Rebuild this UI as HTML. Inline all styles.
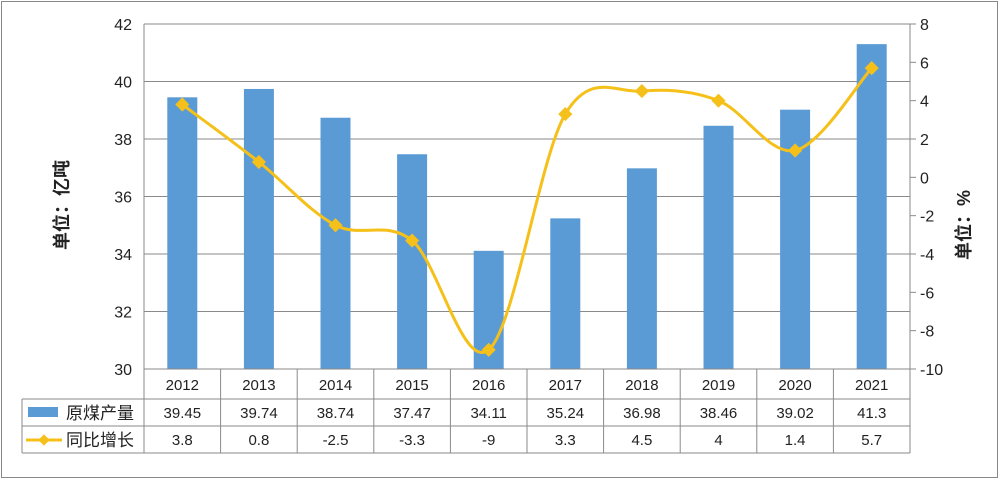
<!DOCTYPE html>
<html><head><meta charset="utf-8"><style>
body{margin:0;background:#fff;}
svg{display:block;font-family:"Liberation Sans","Noto Sans CJK SC",sans-serif;}
</style></head><body>
<svg id="c" width="999" height="480"></svg>
<script>
const categories=['2012','2013','2014','2015','2016','2017','2018','2019','2020','2021'];
const production=[39.45,39.74,38.74,37.47,34.11,35.24,36.98,38.46,39.02,41.3];
const growth=[3.8,0.8,-2.5,-3.3,-9,3.3,4.5,4,1.4,5.7];
const leftTicks=[30,32,34,36,38,40,42];
const rightTicks=[-10,-8,-6,-4,-2,0,2,4,6,8];
const productionLabels=['39.45','39.74','38.74','37.47','34.11','35.24','36.98','38.46','39.02','41.3'];
const growthLabels=['3.8','0.8','-2.5','-3.3','-9','3.3','4.5','4','1.4','5.7'];

const svg=document.getElementById('c');
const NS='http://www.w3.org/2000/svg';
const L=144,R=910,T=24,B=369;
const cw=(R-L)/categories.length;
const yL=v=>B-(v-30)/(42-30)*(B-T);
const yR=v=>B-(v+10)/(18)*(B-T);
const xC=i=>L+cw*(i+0.5);
function mk(tag,at,txt){const e=document.createElementNS(NS,tag);for(const k in at)e.setAttribute(k,at[k]);if(txt!==undefined)e.textContent=txt;svg.appendChild(e);return e;}

let e=mk('rect',{x:1.5,y:1.5,width:996,height:476,fill:'#fff',stroke:'#888'});



leftTicks.forEach(v=>{
 const g=mk('line',{x1:L,x2:R,y1:yL(v),y2:yL(v),stroke:'#8a8a8a','stroke-width':1});
 
 
 const t=mk('text',{x:L-12,y:yL(v)+6,'text-anchor':'end','font-size':16,fill:'#222'},v);
 
 
});
e=mk('line',{x1:L,x2:L,y1:T,y2:B,stroke:'#8a8a8a'});


e=mk('line',{x1:R,x2:R,y1:T,y2:B,stroke:'#8a8a8a'});


rightTicks.forEach(v=>{
 const k=mk('line',{x1:R,x2:R+6,y1:yR(v),y2:yR(v),stroke:'#8a8a8a'});
 
 
 const t=mk('text',{x:R+10,y:yR(v)+6,'font-size':16,fill:'#222'},v);
 
 
});

production.forEach((v,i)=>{
 const b=mk('rect',{x:xC(i)-15,y:yL(v),width:30,height:B-yL(v),fill:'#5b9bd5'});
 
 
});

// smooth line
const pts=growth.map((v,i)=>[xC(i),yR(v)]);
let d='M'+pts[0][0]+','+pts[0][1];
for(let i=0;i<pts.length-1;i++){
 const p0=pts[Math.max(0,i-1)],p1=pts[i],p2=pts[i+1],p3=pts[Math.min(pts.length-1,i+2)];
 const t=1/6;
 d+=` C${p1[0]+(p2[0]-p0[0])*t},${p1[1]+(p2[1]-p0[1])*t} ${p2[0]-(p3[0]-p1[0])*t},${p2[1]-(p3[1]-p1[1])*t} ${p2[0]},${p2[1]}`;
}
e=mk('path',{d:d,fill:'none',stroke:'#f5c01a','stroke-width':3});


pts.forEach((p,i)=>{
 const m=mk('rect',{x:p[0]-5,y:p[1]-5,width:10,height:10,fill:'#f5c01a',transform:`rotate(45 ${p[0]} ${p[1]})`});
 
 
});

// table
const r0=B,r1=399,r2=426,r3=453,TL=22;
[[L,r0,R,r0],[TL,r1,R,r1],[TL,r2,R,r2],[TL,r3,R,r3],[TL,r1,TL,r3]].forEach(a=>{
 const l=mk('line',{x1:a[0],y1:a[1],x2:a[2],y2:a[3],stroke:'#8a8a8a'});
 
 
});
for(let i=0;i<=categories.length;i++){
 const l=mk('line',{x1:L+cw*i,x2:L+cw*i,y1:r0,y2:r3,stroke:'#8a8a8a'});
 
 
}
categories.forEach((c,i)=>{
 let t=mk('text',{x:xC(i),y:390,'text-anchor':'middle','font-size':15,fill:'#222'},c);
 
 
 t=mk('text',{x:xC(i),y:418,'text-anchor':'middle','font-size':15,fill:'#222'},productionLabels[i]);
 
 
 t=mk('text',{x:xC(i),y:445,'text-anchor':'middle','font-size':15,fill:'#222'},growthLabels[i]);
 
 
});
e=mk('rect',{x:28,y:407,width:30,height:10,fill:'#5b9bd5'});


e=mk('text',{x:66,y:419,'font-size':17,fill:'#222'},'原煤产量');


e=mk('line',{x1:26,x2:62,y1:440,y2:440,stroke:'#f5c01a','stroke-width':3});


e=mk('rect',{x:40,y:436,width:8,height:8,fill:'#f5c01a',transform:'rotate(45 44 440)'});


e=mk('text',{x:66,y:446,'font-size':17,fill:'#222'},'同比增长');



e=mk('text',{x:0,y:0,'font-size':18,'font-weight':'bold',fill:'#222','text-anchor':'middle',transform:'translate(68,205) rotate(-90)'},'单位：亿吨');


e=mk('text',{x:0,y:0,'font-size':18,'font-weight':'bold',fill:'#222','text-anchor':'middle',transform:'translate(970,225) rotate(-90)'},'单位：%');


</script>
</body></html>
